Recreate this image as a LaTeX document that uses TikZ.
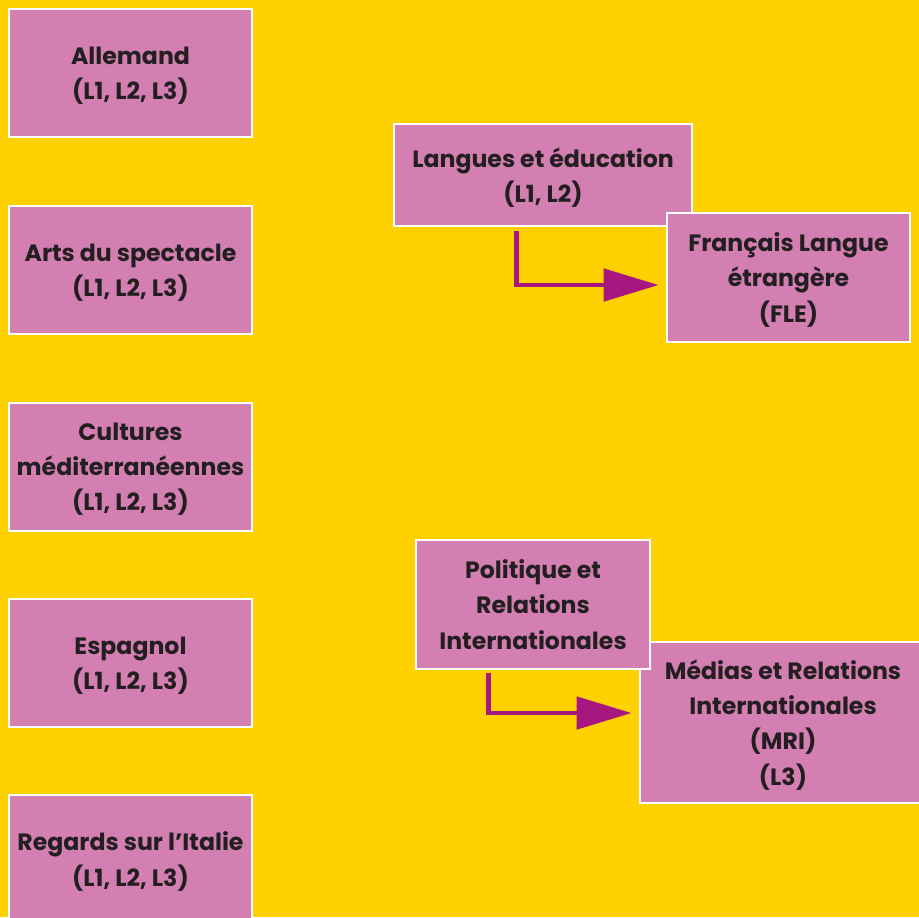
\documentclass[tikz,border=0pt]{standalone}
\usepackage{fontspec}
\setmainfont{Poppins}
\usetikzlibrary{arrows.meta,calc}

\definecolor{fond}{HTML}{FFD100}
\definecolor{rose}{HTML}{D37FB2}
\definecolor{fleche}{HTML}{A8177F}
\definecolor{encre}{HTML}{231F20}

\begin{document}
\begin{tikzpicture}[x=0.025cm,y=-0.025cm,
    filiere/.style={draw=white,line width=2pt,fill=rose,text=encre,
      align=center,inner sep=0pt,text depth=0pt,
      font=\fontsize{16.8}{25}\selectfont\bfseries},
    lien/.style={draw=fleche,line width=3.5pt,
      -{Triangle[length=1.375cm,width=0.8cm]}}
  ]
    \path[use as bounding box] (0,0) rectangle (919,917);
    \clip (0,0) rectangle (919,917);
    \fill[fond] (0,0) rectangle (919,917);

    % colonne de gauche
    \foreach \nom/\y/\texte in {%
      allemand/73/{Allemand\\(L1, L2, L3)},
      arts/270/{Arts du spectacle\\(L1, L2, L3)},
      cultures/467/{Cultures\\méditerranéennes\\(L1, L2, L3)},
      espagnol/663/{Espagnol\\(L1, L2, L3)},
      italie/859/{Regards sur l’Italie\\(L1, L2, L3)}}
    {\node[filiere,minimum width=6.075cm,minimum height=3.2cm] (\nom) at (130.5,\y) {\texte};};

    % langues et FLE
    \node[filiere,minimum width=7.45cm,minimum height=2.55cm] (langues) at (543,175)
      {Langues et éducation\\(L1, L2)};
    \node[filiere,minimum width=6.075cm,minimum height=3.225cm] (fle) at (788.5,277.5)
      {Français Langue\\étrangère\\(FLE)};

    % relations internationales
    \node[filiere,minimum width=7.15cm,minimum height=4.025cm] (mri) at (783,722.5)
      {Médias et Relations\\Internationales\\(MRI)\\(L3)};
    \node[filiere,minimum width=5.85cm,minimum height=3.225cm] (politique) at (533,604.5)
      {Politique et\\Relations\\Internationales};

    \draw[lien] ($(langues.south west)+(124,4)$) |- ([shift={(-7,7.5)}]fle.west);
    \draw[lien] ($(politique.south west)+(74,3)$) |- ([shift={(-7,-9.5)}]mri.west);
  \end{tikzpicture}
\end{document}
